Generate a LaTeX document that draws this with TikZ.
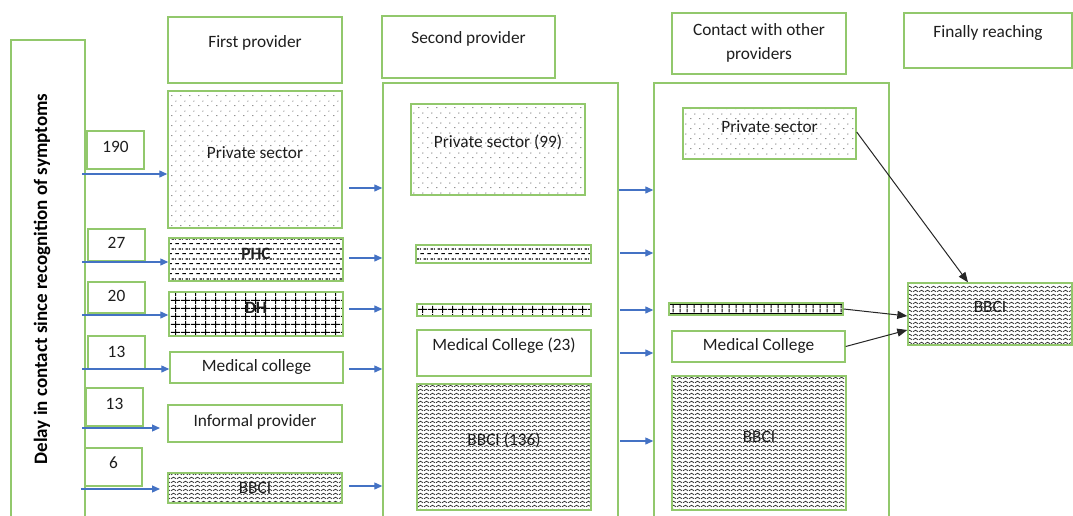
\documentclass[tikz,border=0pt]{standalone}
\usepackage{fontspec}
\setmainfont{Carlito}
\usetikzlibrary{patterns,patterns.meta,arrows.meta}

\definecolor{boxgreen}{RGB}{146,200,108}
\definecolor{flowblue}{RGB}{68,114,196}
\definecolor{inkgrey}{RGB}{30,30,30}

% fill patterns for the provider categories
\pgfdeclarepattern{
  name=pdots, type=uncolored,
  bottom left={\pgfpoint{0pt}{0pt}}, top right={\pgfpoint{8.5pt}{9.6pt}},
  tile size={\pgfpoint{8.5pt}{9.6pt}},
  code={
    \pgfpathcircle{\pgfpoint{2pt}{2.4pt}}{0.5pt}
    \pgfpathcircle{\pgfpoint{6.25pt}{7.2pt}}{0.5pt}
    \pgfusepath{fill}
  }}
\pgfdeclarepattern{
  name=pdashes, type=uncolored,
  bottom left={\pgfpoint{0pt}{0pt}}, top right={\pgfpoint{7pt}{10pt}},
  tile size={\pgfpoint{7pt}{10pt}},
  code={
    \pgfsetlinewidth{1.2pt}
    \pgfpathmoveto{\pgfpoint{0.5pt}{2.5pt}}\pgfpathlineto{\pgfpoint{4.5pt}{2.5pt}}
    \pgfpathmoveto{\pgfpoint{4pt}{7.5pt}}\pgfpathlineto{\pgfpoint{7pt}{7.5pt}}
    \pgfpathmoveto{\pgfpoint{0pt}{7.5pt}}\pgfpathlineto{\pgfpoint{1pt}{7.5pt}}
    \pgfusepath{stroke}
  }}
\pgfdeclarepattern{
  name=pgrid, type=uncolored,
  bottom left={\pgfpoint{0pt}{0pt}}, top right={\pgfpoint{9.5pt}{7.5pt}},
  tile size={\pgfpoint{9.5pt}{7.5pt}},
  code={
    \pgfsetlinewidth{1.1pt}
    \pgfpathmoveto{\pgfpoint{4.75pt}{0pt}}\pgfpathlineto{\pgfpoint{4.75pt}{7.5pt}}
    \pgfpathmoveto{\pgfpoint{0pt}{3.75pt}}\pgfpathlineto{\pgfpoint{9.5pt}{3.75pt}}
    \pgfusepath{stroke}
  }}
\pgfdeclarepattern{
  name=pvlines, type=uncolored,
  bottom left={\pgfpoint{0pt}{0pt}}, top right={\pgfpoint{6.7pt}{4pt}},
  tile size={\pgfpoint{6.7pt}{4pt}},
  code={
    \pgfsetlinewidth{1.1pt}
    \pgfpathmoveto{\pgfpoint{3.35pt}{0pt}}\pgfpathlineto{\pgfpoint{3.35pt}{4pt}}
    \pgfusepath{stroke}
  }}
\pgfdeclarepattern{
  name=pzigzag, type=uncolored,
  bottom left={\pgfpoint{0pt}{0pt}}, top right={\pgfpoint{5.5pt}{4.4pt}},
  tile size={\pgfpoint{5.5pt}{4.4pt}},
  code={
    \pgfsetlinewidth{0.85pt}
    \pgfpathmoveto{\pgfpoint{0pt}{1.4pt}}
    \pgfpathlineto{\pgfpoint{2.75pt}{3.1pt}}
    \pgfpathlineto{\pgfpoint{5.5pt}{1.4pt}}
    \pgfusepath{stroke}
  }}

% box: corners (x1,y1)-(x2,y2), style, label text and label height
\newcommand\provbox[8]{%
  \node[#6, minimum width={#4-#2}, minimum height={#5-#3}] (#1) at ({(#2+#4)/2},{(#3+#5)/2}) {};
  \node[lbl] (#1-t) at ({(#2+#4)/2},#8) {#7};}
\newcommand\plainstrip[6]{%
  \node[#6, minimum width={#4-#2}, minimum height={#5-#3}] (#1) at ({(#2+#4)/2},{(#3+#5)/2}) {};}

\tikzset{
  box/.style={draw=boxgreen, line width=1.4pt, inner sep=0pt, fill=white},
  dotbox/.style={box, pattern=pdots, pattern color=black},
  dashbox/.style={box, pattern=pdashes, pattern color=black},
  gridbox/.style={box, pattern=pgrid, pattern color=black},
  zigbox/.style={box, pattern=pzigzag, pattern color=black!80},
  railbox/.style={box, pattern=pvlines, pattern color=black,
    path picture={\draw[black, line width=1.2pt]
      ([yshift=-1.2pt]path picture bounding box.north west) -- ([yshift=-1.2pt]path picture bounding box.north east)
      ([yshift=1.2pt]path picture bounding box.south west) -- ([yshift=1.2pt]path picture bounding box.south east);}},
  lbl/.style={text=inkgrey, font=\fontsize{17.3}{24}\selectfont, inner sep=0pt, align=center},
  flow/.style={draw=flowblue, line width=1.2pt, -{Triangle[length=8pt,width=7pt]}},
  link/.style={draw=black!85, line width=1pt, -{Triangle[length=10pt,width=8pt]}}
}

\begin{document}
\begin{tikzpicture}[x=1pt, y=-1pt]
\useasboundingbox (0,0) rectangle (1073,516);
\clip (0,0) rectangle (1073,516);

% left band with the rotated title
\node[box, minimum width=74, minimum height=500] (delay) at (48,290) {};
\node[lbl, text=black, font=\fontsize{19}{22}\selectfont\bfseries, rotate=90] (delay-t) at (42,279)
  {Delay in contact since recognition of symptoms};

% column headers
\provbox{hd1}{168}{17}{342}{83}{box}{First provider}{43}
\provbox{hd2}{382}{16}{555}{78}{box}{Second provider}{39}
\provbox{hd3}{672}{13}{846}{74}{box}{Contact with other\\providers}{43}
\provbox{hd4}{904}{13}{1072}{68}{box}{Finally reaching}{33}

% column containers
\plainstrip{col2}{383}{83}{618}{540}{box}
\plainstrip{col3}{654}{83}{889}{540}{box}

% first provider
\provbox{pvt1}{168}{91}{342}{228}{dotbox}{Private sector}{153}
\provbox{phc1}{169}{238}{343}{281}{dashbox}{\textbf{PHC}}{254}
\provbox{dh1}{169}{292}{343}{336}{gridbox}{\textbf{DH}}{308}
\provbox{med1}{170}{352}{343}{383}{box}{Medical college}{367}
\provbox{inf1}{168}{405}{342}{442}{box}{Informal provider}{422}
\provbox{bbci1}{168}{473}{342}{503}{zigbox}{BBCI}{488}

% counts
\provbox{n1}{87}{131}{144}{169}{box}{190}{147}
\provbox{n2}{88}{229}{145}{261}{box}{27}{243}
\provbox{n3}{88}{282}{145}{313}{box}{20}{296}
\provbox{n4}{88}{336}{145}{369}{box}{13}{352}
\provbox{n5}{86}{388}{143}{426}{box}{13}{404}
\provbox{n6}{85}{448}{142}{486}{box}{6}{463}

% second provider
\provbox{pvt2}{411}{104}{585}{195}{dotbox}{Private sector (99)}{142}
\plainstrip{phc2}{416}{245}{591}{263}{dashbox}
\plainstrip{dh2}{417}{304}{591}{316}{gridbox}
\provbox{med2}{417}{330}{591}{376}{box}{Medical College (23)}{346}
\provbox{bbci2}{417}{384}{591}{510}{zigbox}{BBCI (136)}{440}

% contact with other providers
\provbox{pvt3}{683}{108}{856}{159}{dotbox}{Private sector}{127}
\plainstrip{dh3}{669}{303}{843}{315}{railbox}
\provbox{med3}{672}{331}{845}{362}{box}{Medical College}{346}
\provbox{bbci3}{672}{376}{846}{510}{zigbox}{BBCI}{437}

% finally reaching
\provbox{bbci4}{908}{283}{1072}{345}{zigbox}{BBCI}{307}

% arrows into the first provider
\coordinate (l1) at (82,174);
\coordinate (l2) at (82,262);
\coordinate (l3) at (82,315);
\coordinate (l4) at (82,369);
\coordinate (l5) at (82,428);
\coordinate (l6) at (81,489);
\draw[flow] (l1) -- (l1 -| pvt1.west);
\draw[flow] (l2) -- (l2 -| phc1.west);
\draw[flow] (l3) -- (l3 -| dh1.west);
\draw[flow] (l4) -- (l4 -| med1.west);
\coordinate (l5e) at (160,428);
\coordinate (l6e) at (160,489);
\draw[flow] (l5) -- (l5e);
\draw[flow] (l6) -- (l6e);

% arrows into the second provider
\coordinate (c1) at (349,188);
\coordinate (c2) at (349,258);
\coordinate (c3) at (349,309);
\coordinate (c4) at (349,369);
\coordinate (c5) at (349,486);
\foreach \c in {c1,c2,c3,c4,c5} \draw[flow] (\c) -- (\c -| col2.west);

% arrows into the other providers
\coordinate (d1) at (619,190);
\coordinate (d2) at (620,253);
\coordinate (d3) at (620,310);
\coordinate (d4) at (620,353);
\coordinate (d5) at (620,441);
\foreach \d in {d1,d2,d3,d4,d5} \draw[flow] (\d) -- (\d -| col3.west);

% final referrals
\draw[link] ([yshift=1.5pt]pvt3.east) -- ([xshift=-22pt]bbci4.north);
\draw[link] (dh3.east) -- ([yshift=-2pt]bbci4.west);
\draw[link] (med3.east) -- ([yshift=-16pt]bbci4.west);
\end{tikzpicture}
\end{document}
